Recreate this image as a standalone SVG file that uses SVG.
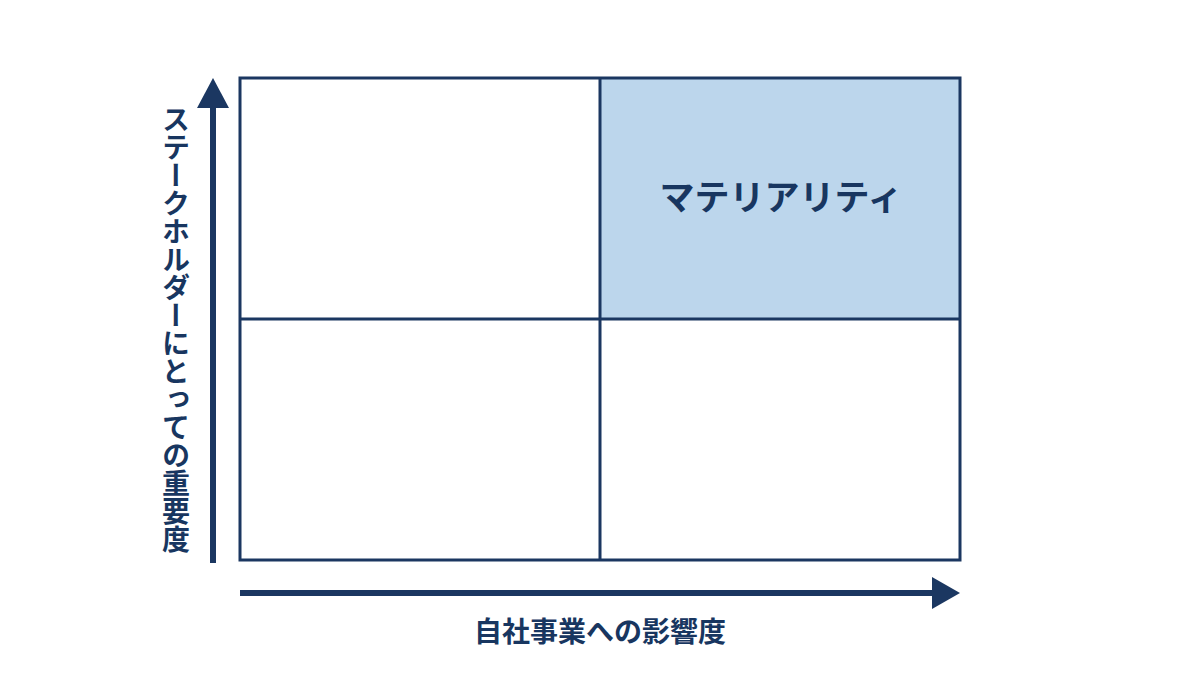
<svg xmlns="http://www.w3.org/2000/svg" width="1200" height="675" viewBox="0 0 1200 675">
<style>
.grid{fill:none;stroke:#1b3761;stroke-width:3}
.axis{stroke:#1b3761;stroke-width:6;fill:none}
.head{fill:#1b3761}
.lbl{font-family:"Noto Sans CJK JP","Noto Sans CJK SC",sans-serif;font-weight:700;fill:#183660}
</style>
<rect width="1200" height="675" fill="#ffffff"/>
<g id="cell-top-right"><rect x="600" y="78" width="360" height="241" fill="#bcd6ec"/></g>
<g id="grid">
<rect class="grid" x="240" y="78" width="720" height="482"/>
<line class="grid" x1="600" y1="78" x2="600" y2="560"/>
<line class="grid" x1="240" y1="319" x2="960" y2="319"/>
</g>
<g id="connectors">
<line class="axis" x1="213" y1="563" x2="213" y2="100"/>
<polygon class="head" points="213,78 229,108 197,108"/>
<line class="axis" x1="240" y1="593" x2="938" y2="593"/>
<polygon class="head" points="960,593 932,577 932,609"/>
</g>
<g id="label-materiality"><text class="lbl" x="781" y="209.5" font-size="35" text-anchor="middle">マテリアリティ</text></g>
<g id="label-x"><text class="lbl" x="600" y="642" font-size="28" text-anchor="middle">自社事業への影響度</text></g>
<g id="label-y"><text class="lbl" x="176" y="105" font-size="28" style="writing-mode:vertical-rl">ステークホルダーにとっての重要度</text></g>
</svg>
